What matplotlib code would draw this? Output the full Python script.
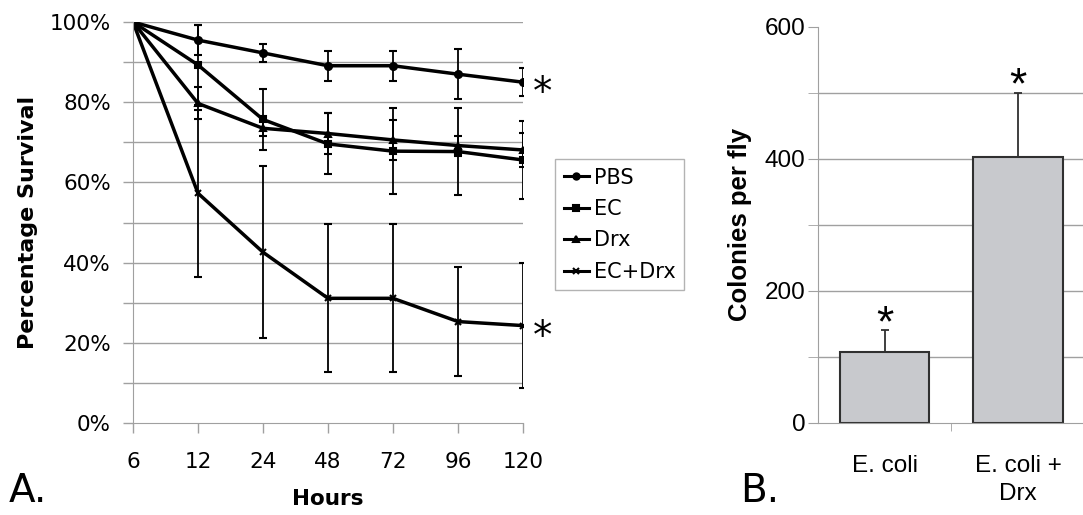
import numpy as np
import matplotlib.pyplot as plt
from matplotlib.lines import Line2D

hours = ['6', '12', '24', '48', '72', '96', '120']
pbs = [100, 95.5, 92.3, 89.1, 89.1, 87.0, 85.0]
pbs_err = [0, 3.8, 2.2, 3.8, 3.8, 6.2, 3.5]
ec = [100, 89.3, 75.7, 69.6, 67.8, 67.7, 65.6]
ec_err = [0, 10, 7.6, 7.6, 10.8, 10.8, 9.8]
drx = [100, 79.7, 73.5, 72.2, 70.6, 69.2, 68.1]
drx_err = [0, 4, 2, 5, 5, 2.5, 4.3]
ecdrx = [100, 57.3, 42.6, 31.1, 31.1, 25.3, 24.3]
ecdrx_err = [0, 20.8, 21.4, 18.5, 18.5, 13.5, 15.5]

groups = ['E. coli', 'E. coli +\nDrx']
colonies = [107, 403]
colonies_err = [33, 97]

fig = plt.figure(figsize=(10.83, 5.15), dpi=100)
grid_c = '#a0a0a0'

# A. survival curves
ax = fig.add_axes([0.1228, 0.1786, 0.3601, 0.7786])
x = np.arange(len(hours))
series = [(pbs, pbs_err, 'o', 'PBS'), (ec, ec_err, 's', 'EC'),
          (drx, drx_err, '^', 'Drx'), (ecdrx, ecdrx_err, 'x', 'EC+Drx')]
handles = []
for vals, err, m, lab in series:
    ax.errorbar(x, vals, yerr=err, color='black', lw=2.5, marker=m, ms=5,
                mew=1.5, elinewidth=1.3, capsize=3, capthick=1.3)
    handles.append(Line2D([], [], color='black', lw=2.2, marker=m, ms=4.5, mew=1.5, label=lab))
for yy in np.arange(10, 101, 10):
    ax.plot([0, 6], [yy, yy], color=grid_c, lw=1, zorder=0)
ax.set_xlim(0, 6)
ax.set_ylim(0, 100)
ax.set_xticks(x)
ax.set_xticklabels(hours, fontsize=15.5)
ax.set_yticks(np.arange(0, 101, 20))
ax.set_yticks(np.arange(0, 101, 10), minor=True)
ax.set_yticklabels(['%d%%' % v for v in range(0, 101, 20)], fontsize=15.5)
ax.tick_params(axis='both', which='both', direction='out', length=7, color=grid_c, width=1)
ax.tick_params(axis='x', pad=14)
ax.tick_params(axis='y', pad=9)
for s in ['top', 'right']:
    ax.spines[s].set_visible(False)
for s in ['left', 'bottom']:
    ax.spines[s].set_color(grid_c)
ax.set_xlabel('Hours', fontsize=15.5, fontweight='bold', labelpad=12)
ax.set_ylabel('Percentage Survival', fontsize=16, fontweight='bold', labelpad=8)
for v in [pbs[-1], ecdrx[-1]]:
    ax.annotate('*', xy=(6, v), xytext=(7, -16), textcoords='offset points',
                fontsize=28, ha='left', va='baseline', annotation_clip=False)
leg = ax.legend(handles=handles, loc='upper left', bbox_to_anchor=(1.083, 0.658), fontsize=15,
                frameon=True, fancybox=False, handlelength=1.2, handletextpad=0.25,
                labelspacing=0.55, borderpad=0.4, borderaxespad=0)
leg.get_frame().set_edgecolor(grid_c)
leg.get_frame().set_linewidth(1)
fig.text(0.008, 0.025, 'A.', fontsize=28)

# B. colony counts
bf = ['Liberation Sans', 'DejaVu Sans']
bx = fig.add_axes([0.7553, 0.1792, 0.2465, 0.769])
bpos = np.arange(len(groups))
bx.bar(bpos, colonies, width=0.67, color='#c8c9cd', edgecolor='#303030', lw=1.5, zorder=2)
bx.errorbar(bpos, colonies, yerr=[[0, 0], colonies_err], fmt='none', ecolor='#303030',
            elinewidth=1.3, capsize=3, capthick=1.3, zorder=3)
for yy in np.arange(100, 501, 100):
    bx.axhline(yy, color=grid_c, lw=1, zorder=0)
for p, v, e in zip(bpos, colonies, colonies_err):
    bx.annotate('*', xy=(p, v + e), xytext=(0, -4), textcoords='offset points',
                fontsize=32, ha='center', va='baseline', family=bf)
bx.set_xlim(-0.5, 1.5)
bx.set_ylim(0, 600)
bx.set_yticks([0, 200, 400, 600])
bx.set_yticks(np.arange(0, 601, 100), minor=True)
bx.set_yticklabels(['0', '200', '400', '600'], fontsize=17.5, family=bf)
bx.set_xticks(bpos)
bx.set_xticklabels(groups, fontsize=17.5, family=bf, linespacing=1.4)
bx.set_xticks([0.5], minor=True)
bx.tick_params(axis='x', which='major', length=0, pad=23)
bx.tick_params(axis='x', which='minor', direction='out', length=6, color=grid_c)
bx.tick_params(axis='y', which='both', direction='out', length=7, color=grid_c, pad=2)
for s in ['top', 'right']:
    bx.spines[s].set_visible(False)
for s in ['left', 'bottom']:
    bx.spines[s].set_color(grid_c)
bx.set_ylabel('Colonies per fly', fontsize=18.5, fontweight='bold', family=bf, labelpad=9)
fig.text(0.683, 0.025, 'B.', fontsize=28)

fig.savefig('out.png', dpi=100)
